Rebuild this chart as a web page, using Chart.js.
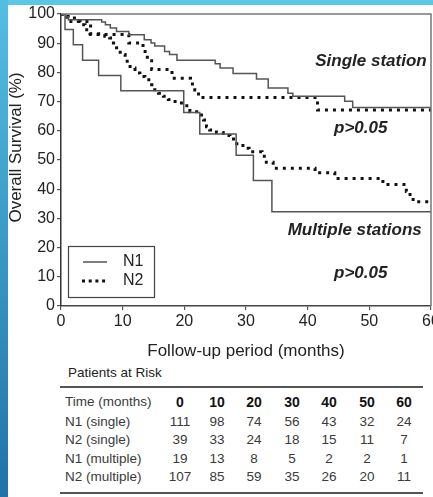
<!DOCTYPE html>
<html>
<head>
<meta charset="utf-8">
<script src="https://cdn.jsdelivr.net/npm/chart.js@4.4.1/dist/chart.umd.min.js"></script>
<style>
  html, body { margin: 0; padding: 0; background: #fff; }
  body { width: 433px; height: 497px; position: relative; overflow: hidden;
         font-family: "Liberation Sans", Arial, sans-serif; }
  #c { position: absolute; left: 0; top: 0; }
  .band-top { position: absolute; left: 0; top: 0; width: 433px; height: 5px; background: #5bc6e6; }
  .band-left { position: absolute; left: 0; top: 0; width: 8px; height: 497px;
               background: linear-gradient(#52bfe2, #1f73a7); }
  .risk-title { position: absolute; left: 68px; top: 366px; font-size: 13.5px; color: #222; line-height: 14px; }
  .rule { position: absolute; left: 60px; width: 363px; height: 2px; background: #555; }
  .cell { position: absolute; font-size: 13.5px; color: #3a3a3a; white-space: nowrap; line-height: 14px; }
  .num { transform: translateX(-50%); }
  .head { color: #111; font-weight: bold; font-size: 14px; }
</style>
</head>
<body>
<canvas id="c" width="433" height="364"></canvas>
<div class="band-top"></div>
<div class="band-left"></div>
<div class="risk-title">Patients at Risk</div>
<div class="rule" style="top:386px"></div>
<div class="rule" style="top:492px"></div>
<div id="risk"></div>
<script>
// Kaplan-Meier survival curves: event times (months) and survival (%)
const n1SingleT = [0, 0.8, 1.2, 6.6, 7.2, 8.0, 9.0, 11.0, 13.5, 14.6, 15.2, 16.8, 17.6, 18.8, 25.0, 25.8, 27.9, 31.7, 33.6, 36.8, 37.6, 46.0, 47.3, 60];
const n1SingleS = [100, 99.0, 98.0, 97.3, 96.3, 95.2, 94.0, 92.9, 91.2, 90.1, 89.0, 87.2, 86.1, 84.2, 83.0, 81.5, 79.6, 77.7, 74.7, 72.9, 71.8, 70.1, 68.0, 68.0];

const n2SingleT = [0, 1.0, 4.8, 11.0, 13.3, 14.0, 14.7, 18.0, 21.0, 21.7, 22.3, 41.6, 60];
const n2SingleS = [100, 97.4, 93.0, 90.1, 87.2, 84.0, 81.0, 78.0, 76.0, 74.0, 71.4, 67.1, 67.1];

const n1MultipleT = [0, 0.65, 2.0, 3.5, 6.1, 9.7, 19.9, 22.5, 28.4, 31.2, 34.2, 60];
const n1MultipleS = [100, 94.7, 89.5, 84.2, 78.9, 73.7, 66.3, 58.9, 51.6, 43.0, 32.3, 32.3];

const n2MultipleT = [0, 0.6, 1.5, 2.8, 3.1, 3.9, 4.7, 7.1, 7.9, 8.5, 9.0, 9.6, 10.4, 11.2, 12.0, 12.8, 13.6, 14.7, 15.2, 15.8, 16.6, 17.4, 18.5, 19.8, 20.9, 22.0, 23.1, 23.6, 24.1, 25.2, 26.3, 27.4, 28.5, 29.5, 30.5, 32.6, 33.3, 34.4, 41.2, 44.4, 52.2, 56.0, 56.6, 57.1, 60];
const n2MultipleS = [100, 99.2, 98.6, 97.5, 96.3, 94.6, 93.2, 92.4, 91.8, 90.1, 88.4, 86.1, 83.8, 81.5, 79.8, 78.6, 77.5, 75.8, 74.1, 72.9, 71.8, 70.7, 69.5, 68.6, 66.5, 65.4, 63.7, 61.4, 60.3, 59.4, 58.4, 57.2, 55.6, 54.0, 52.8, 51.3, 49.2, 47.2, 45.6, 43.7, 41.6, 39.2, 37.4, 35.7, 35.7];

// Patients-at-risk table
const riskTimes = [0, 10, 20, 30, 40, 50, 60];
const riskLabels = ["N1 (single)", "N2 (single)", "N1 (multiple)", "N2 (multiple)"];
const riskN1Single = [111, 98, 74, 56, 43, 32, 24];
const riskN2Single = [39, 33, 24, 18, 15, 11, 7];
const riskN1Multiple = [19, 13, 8, 5, 2, 2, 1];
const riskN2Multiple = [107, 85, 59, 35, 26, 20, 11];

const FONT = '"Liberation Sans", Arial, sans-serif';
const pts = (t, s) => t.map((v, i) => ({ x: v, y: s[i] }));

const solid = { borderColor: '#555', borderWidth: 1.5, stepped: true, pointRadius: 0, fill: false };
const dotted = { borderColor: '#111', borderWidth: 3, borderDash: [3, 5], borderCapStyle: 'butt', stepped: true, pointRadius: 0, fill: false };

// frame on top and right of the plot area
const framePlugin = {
  id: 'frame',
  afterDraw(chart) {
    const { ctx, chartArea: a } = chart;
    ctx.save();
    ctx.strokeStyle = '#777';
    ctx.lineWidth = 1.5;
    ctx.beginPath();
    ctx.moveTo(a.left, a.top);
    ctx.lineTo(a.right, a.top);
    ctx.lineTo(a.right, a.bottom);
    ctx.stroke();
    ctx.restore();
  }
};

// group labels, p-values, legend and y title
const notesPlugin = {
  id: 'notes',
  afterDatasetsDraw(chart) {
    const { ctx } = chart;
    const xs = chart.scales.x, ys = chart.scales.y;
    ctx.save();
    ctx.fillStyle = '#222';
    ctx.textBaseline = 'middle';
    ctx.font = 'italic bold 17px ' + FONT;
    ctx.textAlign = 'right';
    ctx.fillText('Single station', xs.getPixelForValue(59.3), ys.getPixelForValue(83.8));
    ctx.fillText('Multiple stations', xs.getPixelForValue(58.5), ys.getPixelForValue(26));
    ctx.textAlign = 'center';
    ctx.fillText('p>0.05', xs.getPixelForValue(48.6), ys.getPixelForValue(61));
    ctx.fillText('p>0.05', xs.getPixelForValue(48.6), ys.getPixelForValue(11.3));

    // legend
    ctx.strokeStyle = '#444';
    ctx.lineWidth = 1.2;
    ctx.strokeRect(68.5, 246.5, 86, 51);
    ctx.strokeStyle = '#555';
    ctx.lineWidth = 1.5;
    ctx.beginPath(); ctx.moveTo(83, 262); ctx.lineTo(107, 262); ctx.stroke();
    ctx.strokeStyle = '#111';
    ctx.lineWidth = 3;
    ctx.setLineDash([3, 3.7]);
    ctx.beginPath(); ctx.moveTo(82, 281); ctx.lineTo(106, 281); ctx.stroke();
    ctx.setLineDash([]);
    ctx.font = '16px ' + FONT;
    ctx.textAlign = 'left';
    ctx.fillText('N1', 123, 262);
    ctx.fillText('N2', 123, 281);

    // y axis title
    ctx.translate(16.5, 147.5);
    ctx.rotate(-Math.PI / 2);
    ctx.textAlign = 'center';
    ctx.font = '17px ' + FONT;
    ctx.fillText('Overall Survival (%)', 0, 0);
    ctx.restore();
  }
};

new Chart(document.getElementById('c'), {
  type: 'line',
  data: {
    datasets: [
      { label: 'N1 (single)', data: pts(n1SingleT, n1SingleS), ...solid },
      { label: 'N2 (single)', data: pts(n2SingleT, n2SingleS), ...dotted },
      { label: 'N1 (multiple)', data: pts(n1MultipleT, n1MultipleS), ...solid },
      { label: 'N2 (multiple)', data: pts(n2MultipleT, n2MultipleS), ...dotted }
    ]
  },
  options: {
    responsive: false,
    animation: false,
    layout: { padding: { top: 14, right: 2, bottom: 0, left: 0 }, autoPadding: false },
    plugins: { legend: { display: false }, tooltip: { enabled: false } },
    elements: { line: { tension: 0 } },
    scales: {
      x: {
        type: 'linear', min: 0, max: 60,
        ticks: { stepSize: 10, color: '#222', font: { size: 16, family: FONT }, padding: 2, maxRotation: 0 },
        grid: { display: true, drawOnChartArea: false, drawTicks: true, tickLength: 4, color: '#555', lineWidth: 1.2 },
        border: { display: true, color: '#444', width: 1.5 },
        title: { display: true, text: 'Follow-up period (months)', color: '#222', font: { size: 17, family: FONT }, padding: { top: 0, bottom: 2 } },
        afterFit(s) { s.height = 58; s.paddingLeft = 0; s.paddingRight = 0; }
      },
      y: {
        min: 0, max: 100,
        ticks: { stepSize: 10, color: '#222', font: { size: 16, family: FONT }, padding: 2 },
        grid: { display: true, drawOnChartArea: false, drawTicks: true, tickLength: 4, color: '#555', lineWidth: 1.2 },
        border: { display: true, color: '#333', width: 1.5 },
        afterFit(s) { s.width = 61; s.paddingTop = 0; s.paddingBottom = 0; }
      }
    }
  },
  plugins: [framePlugin, notesPlugin]
});

// build the patients-at-risk table
(function () {
  const host = document.getElementById('risk');
  const colX = [180, 217, 254, 292, 329, 367, 404];
  const rowY = [402, 421.5, 440, 458.5, 477];
  const rows = [riskN1Single, riskN2Single, riskN1Multiple, riskN2Multiple];
  function put(text, x, y, cls) {
    const d = document.createElement('div');
    d.className = 'cell ' + cls;
    d.textContent = text;
    d.style.left = x + 'px';
    d.style.top = (y - 7) + 'px';
    host.appendChild(d);
  }
  put('Time (months)', 65, rowY[0], '');
  riskTimes.forEach((t, i) => put(String(t), colX[i], rowY[0], 'num head'));
  rows.forEach((vals, r) => {
    put(riskLabels[r], 65, rowY[r + 1], '');
    vals.forEach((v, i) => put(String(v), colX[i], rowY[r + 1], 'num'));
  });
})();
</script>
</body>
</html>
